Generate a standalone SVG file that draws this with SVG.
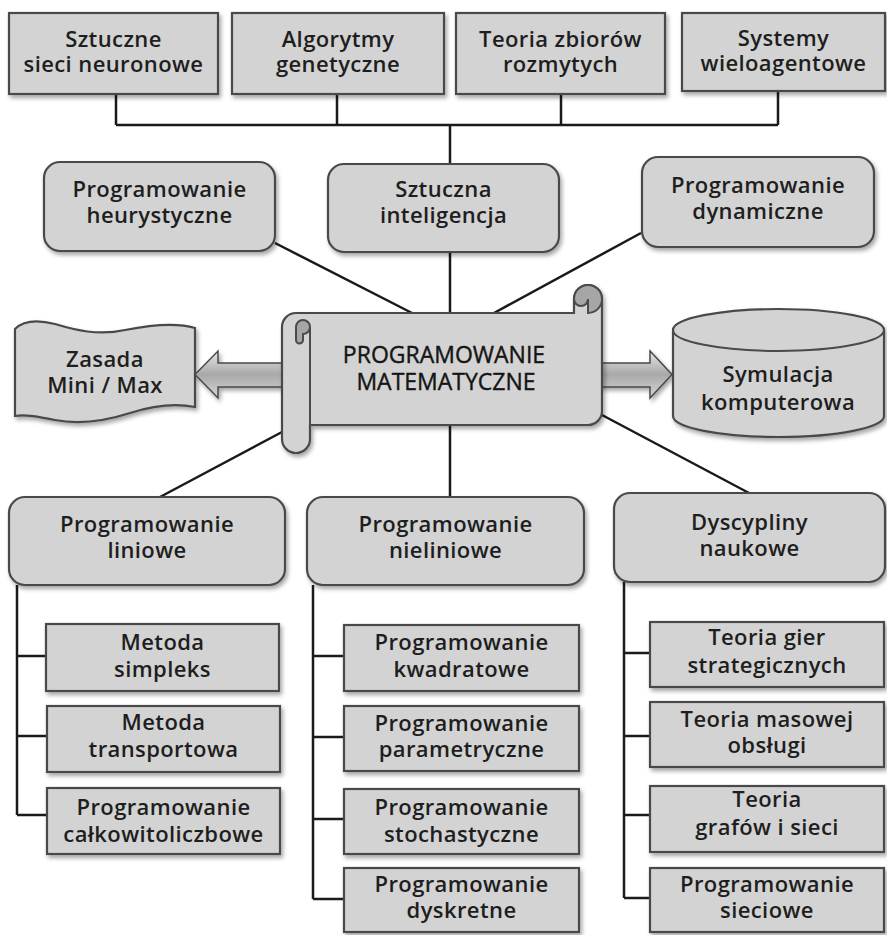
<svg xmlns="http://www.w3.org/2000/svg" width="887" height="935" viewBox="0 0 887 935">
<defs>
<filter id="sh" x="-10%" y="-10%" width="125%" height="130%">
<feDropShadow dx="2" dy="3" stdDeviation="2" flood-color="#000" flood-opacity="0.35"/>
</filter>
<linearGradient id="arr" x1="0" y1="0" x2="0" y2="1">
<stop offset="0" stop-color="#e6e6e6"/>
<stop offset="0.5" stop-color="#a9a9a9"/>
<stop offset="1" stop-color="#d6d6d6"/>
</linearGradient>
<style>
.b{fill:#d3d3d3;stroke:#4a4a4a;stroke-width:2.2;filter:url(#sh)}
.t{font-family:"Open Sans","DejaVu Sans",sans-serif;font-weight:600;font-size:22px;fill:#1e1e1e;text-anchor:middle;letter-spacing:0.4px}
.m{font-family:"Open Sans","DejaVu Sans",sans-serif;font-weight:500;font-size:23px;fill:#151515;stroke:#151515;stroke-width:0.4;text-anchor:middle}
.c{fill:none;stroke:#1a1a1a;stroke-width:2.5}
.d{fill:#a6a6a6;stroke:#4a4a4a;stroke-width:2}
.s{fill:none;stroke:#4a4a4a;stroke-width:2}
</style>
</defs>
<rect width="887" height="935" fill="#fff"/>

<g id="connectors">
<path class="c" d="M116,94V125M337,94V125M561,94V125M778,91V125M116,125H778M450,125V164"/>
<path class="c" d="M450,252V313M275,243L412,313M641,233L494,313"/>
<path class="c" d="M282,432L160,497M450,426V497M602,415L749,493"/>
<path class="c" d="M17,585V815M17,656H46M17,736H47M17,815H47"/>
<path class="c" d="M313,585V899M313,656H344M313,737H344M313,819H344M313,899H344"/>
<path class="c" d="M624,582V898M624,653H650M624,736H650M624,815H650M624,898H650"/>
</g>

<g id="n-sieci"><rect class="b" x="9" y="13" width="209" height="81"/><text class="t" x="113.5" y="47">Sztuczne</text><text class="t" x="113.5" y="72">sieci neuronowe</text></g>
<g id="n-alg"><rect class="b" x="232" y="13" width="212" height="81"/><text class="t" x="338" y="47">Algorytmy</text><text class="t" x="338" y="72">genetyczne</text></g>
<g id="n-teoria"><rect class="b" x="456" y="13" width="209" height="81"/><text class="t" x="560.5" y="47">Teoria zbiorów</text><text class="t" x="560.5" y="72">rozmytych</text></g>
<g id="n-systemy"><rect class="b" x="682" y="13" width="203" height="78"/><text class="t" x="783.5" y="46">Systemy</text><text class="t" x="783.5" y="71">wieloagentowe</text></g>

<g id="n-heur"><rect class="b" x="44" y="162" width="231" height="89" rx="16"/><text class="t" x="159.5" y="197">Programowanie</text><text class="t" x="159.5" y="223">heurystyczne</text></g>
<g id="n-si"><rect class="b" x="328" y="164" width="231" height="88" rx="16"/><text class="t" x="443.5" y="197">Sztuczna</text><text class="t" x="443.5" y="223">inteligencja</text></g>
<g id="n-dyn"><rect class="b" x="642" y="157" width="232" height="90" rx="16"/><text class="t" x="758" y="193">Programowanie</text><text class="t" x="758" y="219">dynamiczne</text></g>

<g id="n-zasada">
<path class="b" d="M15,329C22,322 35,319 55,324C75,330 98,336 125,330C150,325 175,322 195,328L195,407C175,403 155,405 130,413C105,421 80,425 55,420C40,417 25,414 15,416Z"/>
<text class="t" x="105" y="367">Zasada</text><text class="t" x="105" y="393">Mini / Max</text>
</g>

<g id="arrow-left"><path d="M282,363H218V351L195,374.5L218,398V387H282Z" fill="url(#arr)" stroke="#4a4a4a" stroke-width="1.5" filter="url(#sh)"/></g>
<g id="arrow-right"><path d="M600,363H650V351L672,374.5L650,398V387H600Z" fill="url(#arr)" stroke="#4a4a4a" stroke-width="1.5" filter="url(#sh)"/></g>

<g id="n-prog-mat">
<path class="b" d="M602,299V411A14,14 0 0 1 588,425H310V439A14,14 0 0 1 282,439V327A14,14 0 0 1 296,313H574V299A14,14 0 0 1 602,299Z"/>
<path class="d" d="M588,313A14,14 0 1 0 574,299A7,7 0 0 0 588,299Z"/>
<path class="s" d="M574,299V313M588,299V313"/>
<path class="d" d="M296,340V327A7,7 0 0 1 310,327A7,7 0 0 1 303,334V340A3.5,3.5 0 0 1 296,340Z"/>
<path class="s" d="M310,327V439"/>
<text class="m" x="444" y="363">PROGRAMOWANIE</text><text class="m" x="446" y="390">MATEMATYCZNE</text>
</g>

<g id="n-symulacja">
<path class="b" d="M673,330V416A105.5,21 0 0 0 884,416V330A105.5,21 0 0 0 673,330Z"/>
<path class="s" d="M673,330A105.5,21 0 0 0 884,330"/>
<text class="t" x="778" y="382">Symulacja</text><text class="t" x="778" y="410">komputerowa</text>
</g>

<g id="n-lin"><rect class="b" x="9" y="497" width="276" height="88" rx="16"/><text class="t" x="147" y="532">Programowanie</text><text class="t" x="147" y="558">liniowe</text></g>
<g id="n-nielin"><rect class="b" x="307" y="497" width="277" height="88" rx="16"/><text class="t" x="445.5" y="532">Programowanie</text><text class="t" x="445.5" y="558">nieliniowe</text></g>
<g id="n-dysc"><rect class="b" x="614" y="493" width="271" height="89" rx="16"/><text class="t" x="749.5" y="530">Dyscypliny</text><text class="t" x="749.5" y="556">naukowe</text></g>

<g id="n-simpleks"><rect class="b" x="46" y="624" width="233" height="67"/><text class="t" x="162.5" y="650">Metoda</text><text class="t" x="162.5" y="677">simpleks</text></g>
<g id="n-transport"><rect class="b" x="47" y="706" width="233" height="66"/><text class="t" x="163.5" y="730">Metoda</text><text class="t" x="163.5" y="757">transportowa</text></g>
<g id="n-calk"><rect class="b" x="47" y="788" width="233" height="66"/><text class="t" x="163.5" y="815">Programowanie</text><text class="t" x="163.5" y="842">całkowitoliczbowe</text></g>

<g id="n-kwadr"><rect class="b" x="344" y="625" width="235" height="66"/><text class="t" x="461.5" y="650">Programowanie</text><text class="t" x="461.5" y="677">kwadratowe</text></g>
<g id="n-param"><rect class="b" x="344" y="706" width="235" height="65"/><text class="t" x="461.5" y="731">Programowanie</text><text class="t" x="461.5" y="757">parametryczne</text></g>
<g id="n-stoch"><rect class="b" x="344" y="789" width="235" height="65"/><text class="t" x="461.5" y="815">Programowanie</text><text class="t" x="461.5" y="842">stochastyczne</text></g>
<g id="n-dyskr"><rect class="b" x="344" y="868" width="235" height="64"/><text class="t" x="461.5" y="892">Programowanie</text><text class="t" x="461.5" y="918">dyskretne</text></g>

<g id="n-gier"><rect class="b" x="650" y="622" width="234" height="65"/><text class="t" x="767" y="645">Teoria gier</text><text class="t" x="767" y="673">strategicznych</text></g>
<g id="n-masowej"><rect class="b" x="650" y="702" width="234" height="65"/><text class="t" x="767" y="727">Teoria masowej</text><text class="t" x="767" y="753">obsługi</text></g>
<g id="n-grafow"><rect class="b" x="650" y="786" width="234" height="66"/><text class="t" x="767" y="807">Teoria</text><text class="t" x="767" y="835">grafów i sieci</text></g>
<g id="n-siec"><rect class="b" x="650" y="868" width="234" height="64"/><text class="t" x="767" y="892">Programowanie</text><text class="t" x="767" y="918">sieciowe</text></g>
</svg>
